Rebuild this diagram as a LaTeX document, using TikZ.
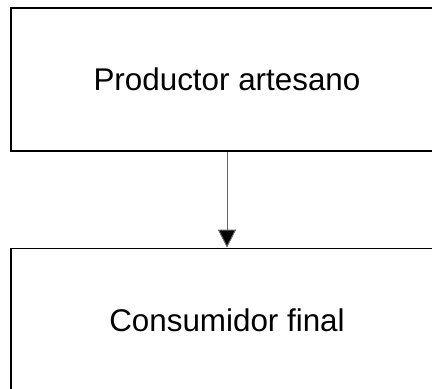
\documentclass[tikz,border=0pt]{standalone}
\usepackage{fontspec}
\setmainfont{Liberation Sans}
\usetikzlibrary{arrows.meta}
\usetikzlibrary{positioning}
\tikzset{>=latex}
\tikzstyle{caja} = [rectangle, draw = black, line width = 1.3bp, minimum width = 432bp, minimum height = 143bp, inner sep = 0pt, font = \fontsize{31.5}{36}\selectfont]

\begin{document}
\begin{tikzpicture}
\useasboundingbox (0, 0) rectangle (432bp, -389bp);
\node [caja] (Prod) at (227bp, -79.5bp) {Productor artesano};
\node [caja, below = 96bp of Prod] (Cons) {Consumidor final};
\draw [draw = black!60, line width = 1bp, -{Triangle[length = 18bp, width = 18bp, fill = black]}] (Prod) to (Cons);
\end{tikzpicture}
\end{document}
